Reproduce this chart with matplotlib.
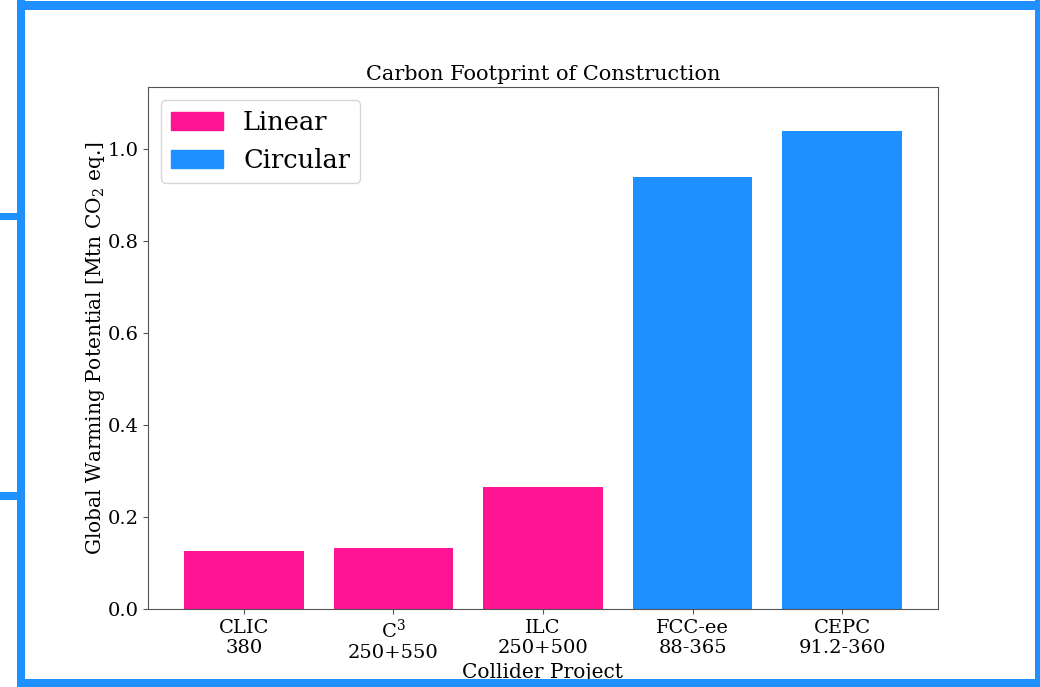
import matplotlib
matplotlib.use("Agg")
import matplotlib.pyplot as plt
from matplotlib.patches import Rectangle, Patch

# construction footprint per collider project [Mtn CO2 eq.]
projects = ["CLIC\n380", "C$^3$\n250+550", "ILC\n250+500", "FCC-ee\n88-365", "CEPC\n91.2-360"]
footprint = [0.126, 0.133, 0.265, 0.939, 1.039]
kind = ["Linear", "Linear", "Linear", "Circular", "Circular"]

colors = {"Linear": "#FF1493", "Circular": "#1E90FF"}

plt.rcParams["font.family"] = "DejaVu Serif"
plt.rcParams["mathtext.fontset"] = "dejavuserif"

W, H = 1040, 687
fig = plt.figure(figsize=(W / 100, H / 100), dpi=100)
ax = fig.add_axes([148 / W, 1 - 609 / H, (938 - 148) / W, (609 - 87) / H])

x = range(len(projects))
ax.bar(x, footprint, width=0.8, color=[colors[k] for k in kind])
ax.set_xticks(list(x))
ax.set_xticklabels(projects, fontsize=14, linespacing=1.15)
ax.tick_params(axis="y", labelsize=14)
ax.set_ylim(0, 1.135)
ax.set_yticks([0.0, 0.2, 0.4, 0.6, 0.8, 1.0])

for s in ax.spines.values():
    s.set_color("#555555")
ax.tick_params(colors="#555555", labelcolor="black")

ax.set_title("Carbon Footprint of Construction", fontsize=15, pad=5)
ax.set_xlabel("Collider Project", fontsize=14.5, labelpad=1)
ax.set_ylabel("Global Warming Potential [Mtn CO$_2$ eq.]", fontsize=14.5, labelpad=0)

handles = [Patch(color=colors["Linear"], label="Linear"),
           Patch(color=colors["Circular"], label="Circular")]
ax.legend(handles=handles, loc="upper left", fontsize=18.5)

# slide frame around the chart
frame = "#1E90FF"
def band(x0, y0, x1, y1):
    fig.add_artist(Rectangle((x0 / W, 1 - y1 / H), (x1 - x0) / W, (y1 - y0) / H,
                             transform=fig.transFigure, color=frame, lw=0))

band(17, 1, 1040, 10)
band(17, 0, 25, 687)
band(17, 679, 1040, 687)
band(1035, 0, 1040, 687)
band(0, 213, 17, 220)
band(0, 492, 17, 500)

fig.savefig("out.png", dpi=100)
